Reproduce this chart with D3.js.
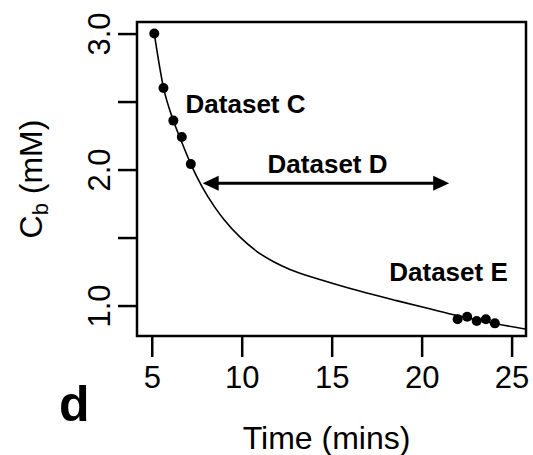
<!DOCTYPE html>
<html>
  <head>
    <meta charset="utf-8" />
    <style>
      body { margin: 0; background: #fff; }
      svg { display: block; font-family: "Liberation Sans", Arial, sans-serif; }
    </style>
  </head>
  <body>
    <svg width="533" height="455"></svg>
    <script src="https://cdn.jsdelivr.net/npm/d3@7"></script>
    <script>
      // measured points (Dataset C and Dataset E)
      var timeC = [5.14, 5.65, 6.2, 6.67, 7.17];
      var concC = [3.0, 2.6, 2.36, 2.24, 2.04];
      var timeE = [22.0, 22.53, 23.06, 23.57, 24.07];
      var concE = [0.9, 0.918, 0.886, 0.899, 0.869];

      // fitted curve
      var curveTime = [5.14, 5.65, 6.2, 6.67, 7.17, 7.8, 8.5, 9.0, 9.91, 10.83, 11.8, 12.68, 14.53, 16.5, 18.6, 20.5, 22.0, 23.5, 25.83];
      var curveConc = [3.0, 2.604, 2.36, 2.2, 2.04, 1.873, 1.724, 1.635, 1.503, 1.399, 1.32, 1.265, 1.184, 1.108, 1.036, 0.974, 0.926, 0.882, 0.825];

      var xTicks = [5, 10, 15, 20, 25];
      var yTicks = [1, 1.5, 2, 2.5, 3];
      var yLabels = ["1.0", "", "2.0", "", "3.0"];

      var svg = d3.select("svg"),
        margin = { top: 22, left: 137 },
        width = 389,
        height = 314,
        g = svg.append("g").attr("transform", "translate(" + margin.left + "," + margin.top + ")");

      var x = d3.scaleLinear().domain([4.18, 25.8]).range([0, width]);
      var y = d3.scaleLinear().domain([0.776, 3.085]).range([height, 0]);

      // x axis
      var xAxis = g
        .append("g")
        .attr("transform", "translate(0," + height + ")")
        .call(d3.axisBottom(x).tickValues(xTicks).tickSize(21).tickFormat(d3.format("d")));
      xAxis.select(".domain").remove();
      xAxis.selectAll("line").attr("stroke", "#000").attr("stroke-width", 2.5);
      xAxis
        .selectAll("text")
        .attr("y", 52)
        .attr("dy", null)
        .attr("font-size", 31)
        .attr("fill", "#000");

      // y axis
      var yAxis = g.append("g").call(
        d3
          .axisLeft(y)
          .tickValues(yTicks)
          .tickSize(19)
          .tickFormat(function(d, i) {
            return yLabels[i];
          })
      );
      yAxis.select(".domain").remove();
      yAxis.selectAll("line").attr("stroke", "#000").attr("stroke-width", 2.5);
      yAxis
        .selectAll("text")
        .attr("x", 0)
        .attr("y", -27)
        .attr("dy", null)
        .attr("transform", "rotate(-90)")
        .attr("text-anchor", "middle")
        .attr("font-size", 31)
        .attr("fill", "#000");

      // frame
      g.append("rect")
        .attr("width", width)
        .attr("height", height)
        .attr("fill", "none")
        .attr("stroke", "#000")
        .attr("stroke-width", 2.5);

      // curve
      var pts = curveTime.map(function(t, i) {
        return [t, curveConc[i]];
      });
      var line = d3
        .line()
        .x(function(d) { return x(d[0]); })
        .y(function(d) { return y(d[1]); })
        .curve(d3.curveMonotoneX);
      g.append("path")
        .datum(pts)
        .attr("d", line)
        .attr("fill", "none")
        .attr("stroke", "#000")
        .attr("stroke-width", 1.6);

      // points
      var dots = timeC
        .map(function(t, i) { return [t, concC[i]]; })
        .concat(timeE.map(function(t, i) { return [t, concE[i]]; }));
      g.selectAll(".dot")
        .data(dots)
        .enter()
        .append("circle")
        .attr("class", "dot")
        .attr("cx", function(d) { return x(d[0]); })
        .attr("cy", function(d) { return y(d[1]); })
        .attr("r", 5)
        .attr("fill", "#000");

      // annotations
      var ann = g.append("g").attr("font-weight", "bold").attr("font-size", 26).attr("fill", "#000");
      ann.append("text").attr("x", x(6.88)).attr("y", y(2.413)).text("Dataset C");
      ann.append("text").attr("x", x(14.77)).attr("y", y(1.972)).attr("text-anchor", "middle").text("Dataset D");
      ann.append("text").attr("x", x(18.2)).attr("y", y(1.182)).text("Dataset E");

      // double arrow for Dataset D
      var ax0 = x(7.83), ax1 = x(21.53), ay = y(1.9), hl = 16, hw = 7.5;
      g.append("line")
        .attr("x1", ax0 + hl - 2)
        .attr("x2", ax1 - hl + 2)
        .attr("y1", ay)
        .attr("y2", ay)
        .attr("stroke", "#000")
        .attr("stroke-width", 3);
      g.append("path")
        .attr("d", "M" + ax0 + "," + ay + "L" + (ax0 + hl) + "," + (ay - hw) + "L" + (ax0 + hl) + "," + (ay + hw) + "Z")
        .attr("fill", "#000");
      g.append("path")
        .attr("d", "M" + ax1 + "," + ay + "L" + (ax1 - hl) + "," + (ay - hw) + "L" + (ax1 - hl) + "," + (ay + hw) + "Z")
        .attr("fill", "#000");

      // axis titles
      svg
        .append("text")
        .attr("x", margin.left + width / 2 - 5)
        .attr("y", 449)
        .attr("text-anchor", "middle")
        .attr("font-size", 32)
        .text("Time (mins)");

      var yt = svg
        .append("text")
        .attr("transform", "translate(42," + (margin.top + height / 2) + ") rotate(-90)")
        .attr("text-anchor", "middle")
        .attr("font-size", 32);
      yt.append("tspan").text("C");
      yt.append("tspan").attr("font-size", 22).attr("dy", 6).text("b");
      yt.append("tspan").attr("dy", -6).text(" (mM)");

      // panel letter
      svg
        .append("text")
        .attr("x", 59)
        .attr("y", 421)
        .attr("font-size", 50)
        .attr("font-weight", "bold")
        .text("d");
    </script>
  </body>
</html>
